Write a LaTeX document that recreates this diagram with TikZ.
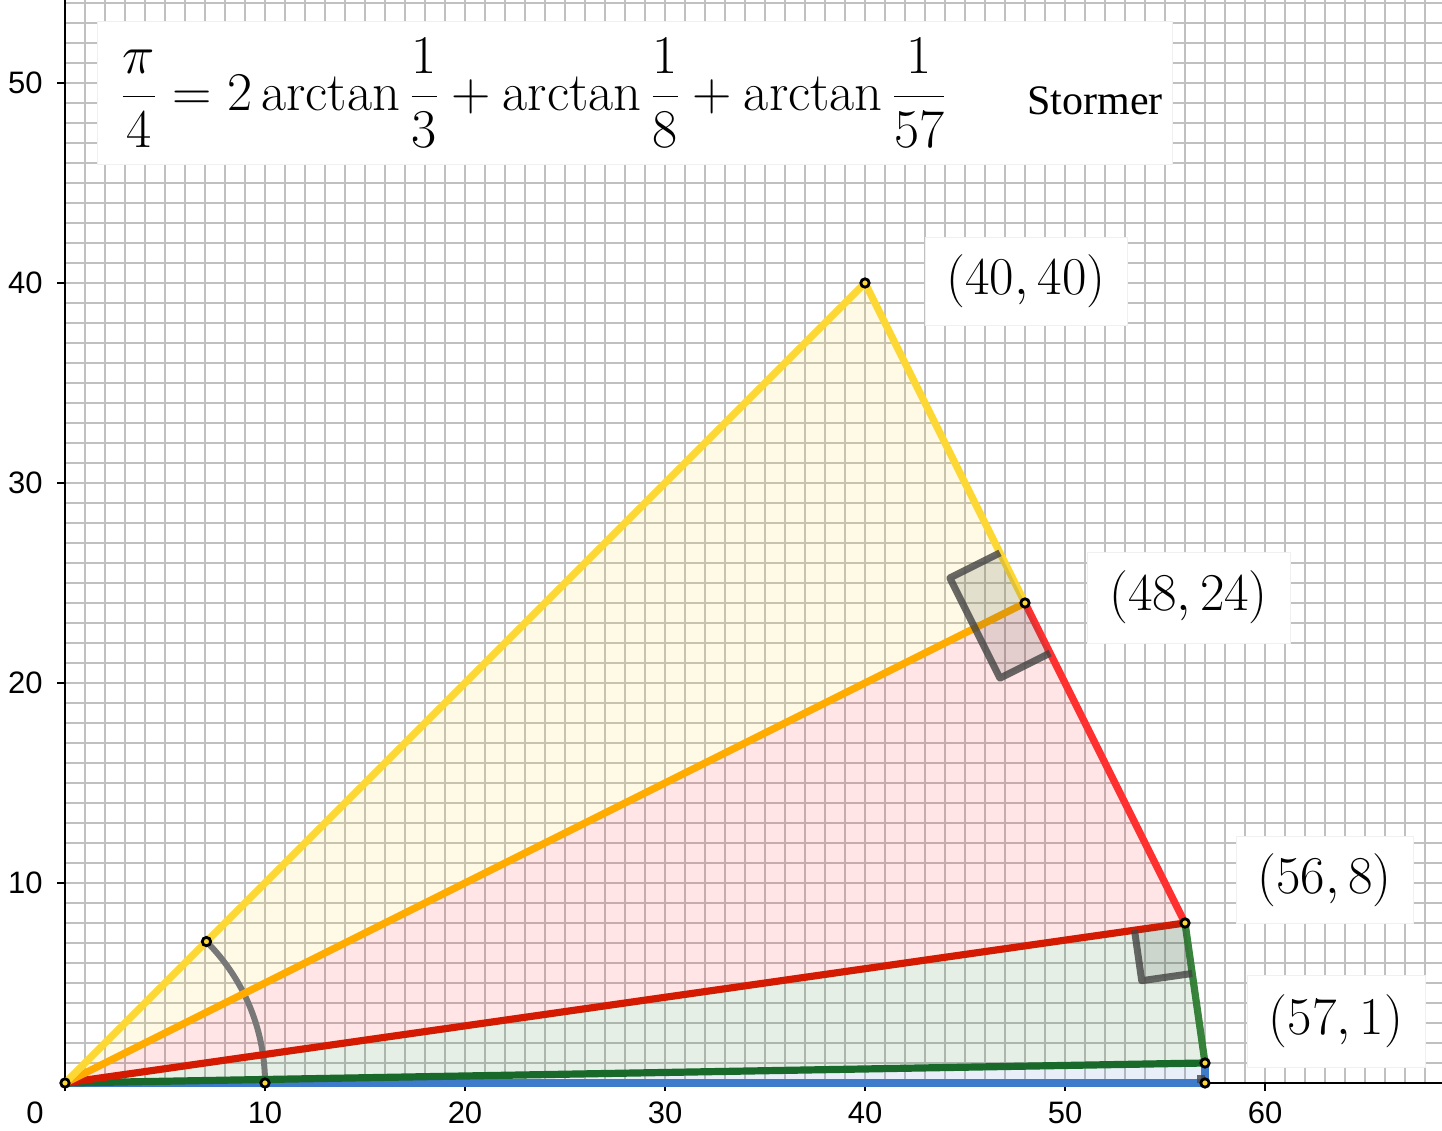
\RequirePackage{fix-cm}
\documentclass[tikz,border=0pt]{standalone}
\usepackage{fontspec}
\newfontfamily\axisfont{Liberation Sans}
\newfontfamily\stormerfont{Liberation Serif}
\definecolor{gridc}{HTML}{C0C0C0}
\definecolor{yel}{HTML}{FDD835}
\definecolor{ora}{HTML}{FFAB00}
\definecolor{redl}{HTML}{FF3030}
\definecolor{dred}{HTML}{D41A00}
\definecolor{grn}{HTML}{2E7D32}
\definecolor{dgrn}{HTML}{18692A}
\definecolor{blu}{HTML}{3F7BCB}
\definecolor{markc}{HTML}{444444}
\definecolor{arcc}{HTML}{787878}
\tikzset{
  gridline/.style={gridc, line width=1.25pt},
  axisline/.style={black, line width=1pt},
  seg/.style={line width=3.6pt, line join=round},
  axlabel/.style={font=\axisfont\fontsize{15.5}{18}\selectfont, inner sep=0pt},
  coordlabel/.style={fill=white, draw=gray!12, font=\fontsize{26.6}{30}\selectfont, inner sep=0pt},
  ptmark/.style={circle, draw=black, fill=yel, line width=1.4pt, inner sep=0pt, minimum size=4.2pt},
  ramark/.style={draw=markc, draw opacity=0.8, line width=3.5pt, line join=round},
}
\begin{document}
\begin{tikzpicture}[x=10pt,y=10pt]
\useasboundingbox (-3.25,-2.4) rectangle (68.85,54.15);
% grid
\foreach \i in {1,...,68} \draw[gridline] (\i,0) -- (\i,54.15);
\foreach \j in {1,...,54} \draw[gridline] (0,\j) -- (68.85,\j);
% axes
\draw[axisline] (0,-0.4) -- (0,54.15);
\draw[axisline] (0,0) -- (68.85,0);
\foreach \i in {10,20,...,60} \draw[axisline] (\i,0) -- (\i,-0.4);
\foreach \j in {10,20,...,50} \draw[axisline] (0,\j) -- (-0.4,\j);
\node[axlabel] (x0) at (-1.5,-1.5) {0};
\foreach \i in {10,20,...,60} \node[axlabel] (x\i) at (\i,-1.5) {\i};
\foreach \j in {10,20,...,50} \node[axlabel, anchor=east] (y\j) at (-1.1,\j) {\j};
% points
\coordinate (O) at (0,0);
\coordinate (A) at (40,40);
\coordinate (B) at (48,24);
\coordinate (C) at (56,8);
\coordinate (D) at (57,1);
\coordinate (E) at (57,0);
\coordinate (P10) at (10,0);
\coordinate (P45) at (7.0711,7.0711);
% fills
\fill[yel, opacity=0.13] (O) -- (A) -- (B) -- cycle;
\fill[red, opacity=0.1] (O) -- (B) -- (C) -- cycle;
\fill[green!40!black, opacity=0.1] (O) -- (C) -- (D) -- cycle;
\fill[blu, opacity=0.12] (O) -- (D) -- (E) -- cycle;
% angle arc
\draw[arcc, line width=3pt] (P10) arc[start angle=0, end angle=45, radius=100pt];
% segments
\draw[seg, blu] (O) -- (E);
\draw[seg, blu] (E) -- (D);
\draw[seg, dgrn] (O) -- (D);
\draw[seg, grn, opacity=0.95] (D) -- (C);
\draw[seg, dred] (O) -- (C);
\draw[seg, redl] (C) -- (B);
\draw[seg, ora] (O) -- (B);
\draw[seg, yel] (B) -- (A);
\draw[seg, yel] (O) -- (A);
% right angle marks
\coordinate (P1) at (46.748,26.504);
\coordinate (P2) at (44.244,25.252);
\coordinate (P3) at (46.748,20.244);
\coordinate (P4) at (49.252,21.496);
\fill[markc, opacity=0.15] (B) -- (P1) -- (P2) -- (P3) -- (P4) -- cycle;
\draw[ramark] (P1) -- (P2) -- (P3) -- (P4);
\coordinate (R1) at (53.476,7.639);
\coordinate (R2) at (53.836,5.115);
\coordinate (R3) at (56.361,5.476);
\fill[markc, opacity=0.15] (C) -- (R1) -- (R2) -- (R3) -- cycle;
\draw[ramark] (R1) -- (R2) -- (R3);
\fill[markc, opacity=0.8] (56.6,0) rectangle (57,0.4);
% point markers
\foreach \p in {O,A,B,C,D,E,P10,P45} \node[ptmark] (m\p) at (\p) {};
% formula box
\fill[white] (1.6,45.9) rectangle (55.35,53.05);
\draw[gray!12, line width=0.5pt] (1.6,45.9) rectangle (55.35,53.05);
\node[anchor=west, inner sep=0pt, font=\fontsize{27.3}{32}\selectfont] (formula) at (2.75,49.5)
  {$\displaystyle \frac{\pi}{4}=2\arctan\frac{1}{3}+\arctan\frac{1}{8}+\arctan\frac{1}{57}$};
\node[anchor=base west, inner sep=0pt, font=\stormerfont\fontsize{21}{25}\selectfont] (stormer) at (48.1,48.4) {Stormer};
% coordinate labels
\node[coordlabel, minimum width=101pt, minimum height=44pt] (lA) at (48.05,40.1) {$(40,40)$};
\node[coordlabel, minimum width=101.5pt, minimum height=45.5pt] (lB) at (56.175,24.275) {$(48,24)$};
\node[coordlabel, minimum width=88.5pt, minimum height=43.5pt] (lC) at (62.975,10.15) {$(56,8)$};
\node[coordlabel, minimum width=89pt, minimum height=46pt] (lD) at (63.55,3.1) {$(57,1)$};
\end{tikzpicture}
\end{document}
